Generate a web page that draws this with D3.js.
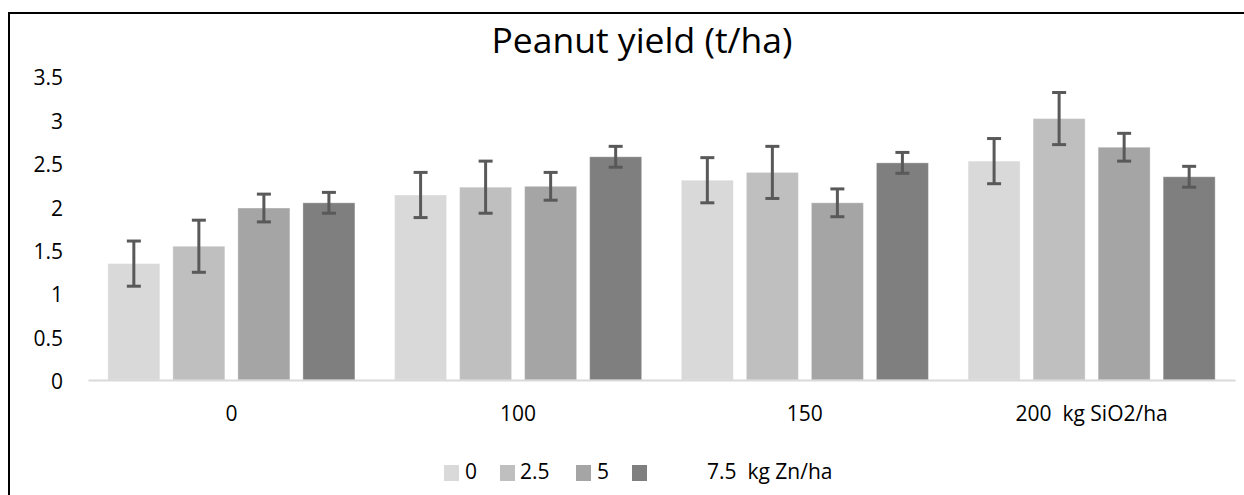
<!DOCTYPE html>
<html>
<head>
<meta charset="utf-8">
<script src="https://cdn.jsdelivr.net/npm/d3@7"></script>
<style>
  html, body { margin: 0; padding: 0; background: #fff; }
  svg { display: block; }
  text { font-family: "Open Sans", Lato, "Liberation Sans", sans-serif; fill: #000; }
</style>
</head>
<body>
<svg id="chart" width="1244" height="495"></svg>
<script>
// ---- data ----
const categories = ["0", "100", "150", "200  kg SiO2/ha"];
const seriesNames = ["0", "2.5", "5", "7.5  kg Zn/ha"];
const zn0   = [1.34, 2.13, 2.30, 2.52];
const zn25  = [1.54, 2.22, 2.39, 3.01];
const zn5   = [1.98, 2.23, 2.04, 2.68];
const zn75  = [2.04, 2.57, 2.50, 2.34];
const err0  = [0.26, 0.26, 0.26, 0.26];
const err25 = [0.30, 0.30, 0.30, 0.30];
const err5  = [0.16, 0.16, 0.16, 0.16];
const err75 = [0.12, 0.12, 0.12, 0.12];
const yTicks = [0, 0.5, 1, 1.5, 2, 2.5, 3, 3.5];
const colors = ["#D9D9D9", "#BFBFBF", "#A5A5A5", "#7F7F7F"];
const title = "Peanut yield (t/ha)";

const values = [zn0, zn25, zn5, zn75];
const errors = [err0, err25, err5, err75];

const FONT = "'Open Sans', Lato, 'Liberation Sans', sans-serif";
const LABEL_SIZE = 21;
const svg = d3.select("#chart");

// outer border (chart area, cropped at right/bottom)
svg.append("rect")
  .attr("x", 9).attr("y", 13)
  .attr("width", 1400).attr("height", 700)
  .attr("fill", "none").attr("stroke", "#000").attr("stroke-width", 2);

// scales
const x0 = d3.scaleBand().domain(categories).range([88, 1235]).paddingInner(0).paddingOuter(0);
const x1 = d3.scaleBand().domain(d3.range(seriesNames.length))
  .range([0, x0.bandwidth()]).paddingInner(0.2).paddingOuter(0.305);
const y = d3.scaleLinear().domain([0, 3.5]).range([380, 76]);

// title
svg.append("text")
  .attr("x", 642).attr("y", 53)
  .attr("text-anchor", "middle")
  .attr("font-size", 35.5)
  .text(title);

// y axis (labels only)
const yAxis = d3.axisLeft(y).tickValues(yTicks).tickSize(0).tickPadding(0)
  .tickFormat(d3.format("~g"));
const gy = svg.append("g").attr("transform", "translate(63,2)").call(yAxis);
gy.select(".domain").remove();
gy.selectAll("text").attr("font-size", LABEL_SIZE).attr("fill", "#000").style("font-family", FONT);

// bars
const groups = svg.append("g").selectAll("g")
  .data(seriesNames.map((s, i) => ({ s, i })))
  .join("g");

groups.each(function (ser) {
  const g = d3.select(this);
  const rows = categories.map((c, j) => ({ c, v: values[ser.i][j], e: errors[ser.i][j] }));
  g.selectAll("rect").data(rows).join("rect")
    .attr("x", d => x0(d.c) + x1(ser.i))
    .attr("y", d => y(d.v))
    .attr("width", x1.bandwidth())
    .attr("height", d => y(0) - y(d.v))
    .attr("fill", colors[ser.i])
    .attr("stroke", "rgba(255,255,255,0.35)")
    .attr("stroke-width", 1);
});

// x axis line + labels
const xAxis = d3.axisBottom(x0).tickSize(0).tickPadding(0);
const gx = svg.append("g").attr("transform", `translate(0,${y(0)})`).call(xAxis);
gx.select(".domain").attr("stroke", "#D9D9D9").attr("stroke-width", 2);
gx.selectAll("text").attr("font-size", LABEL_SIZE).attr("fill", "#000").attr("dy", 0).attr("y", 41)
  .style("font-family", FONT).style("white-space", "pre")
  .attr("xml:space", "preserve");

// error bars
groups.each(function (ser) {
  const g = d3.select(this);
  const rows = categories.map((c, j) => ({ c, v: values[ser.i][j], e: errors[ser.i][j] }));
  const cx = d => x0(d.c) + x1(ser.i) + x1.bandwidth() / 2;
  const eg = g.selectAll("g.err").data(rows).join("g").attr("class", "err")
    .attr("stroke", "#595959").attr("stroke-width", 3);
  eg.append("line").attr("x1", cx).attr("x2", cx)
    .attr("y1", d => y(d.v + d.e)).attr("y2", d => y(d.v - d.e));
  eg.append("line").attr("x1", d => cx(d) - 7).attr("x2", d => cx(d) + 7)
    .attr("y1", d => y(d.v + d.e)).attr("y2", d => y(d.v + d.e));
  eg.append("line").attr("x1", d => cx(d) - 7).attr("x2", d => cx(d) + 7)
    .attr("y1", d => y(d.v - d.e)).attr("y2", d => y(d.v - d.e));
});

// legend
const legendX = [444, 500, 576, 632];
const legendTextX = [465, 520, 597, 707];
const lg = svg.append("g");
seriesNames.forEach((s, i) => {
  lg.append("rect").attr("x", legendX[i]).attr("y", 465).attr("width", 15).attr("height", 16)
    .attr("fill", colors[i]);
  lg.append("text").attr("x", legendTextX[i]).attr("y", 479)
    .attr("font-size", LABEL_SIZE).attr("xml:space", "preserve").style("white-space", "pre")
    .text(s);
});
</script>
</body>
</html>
